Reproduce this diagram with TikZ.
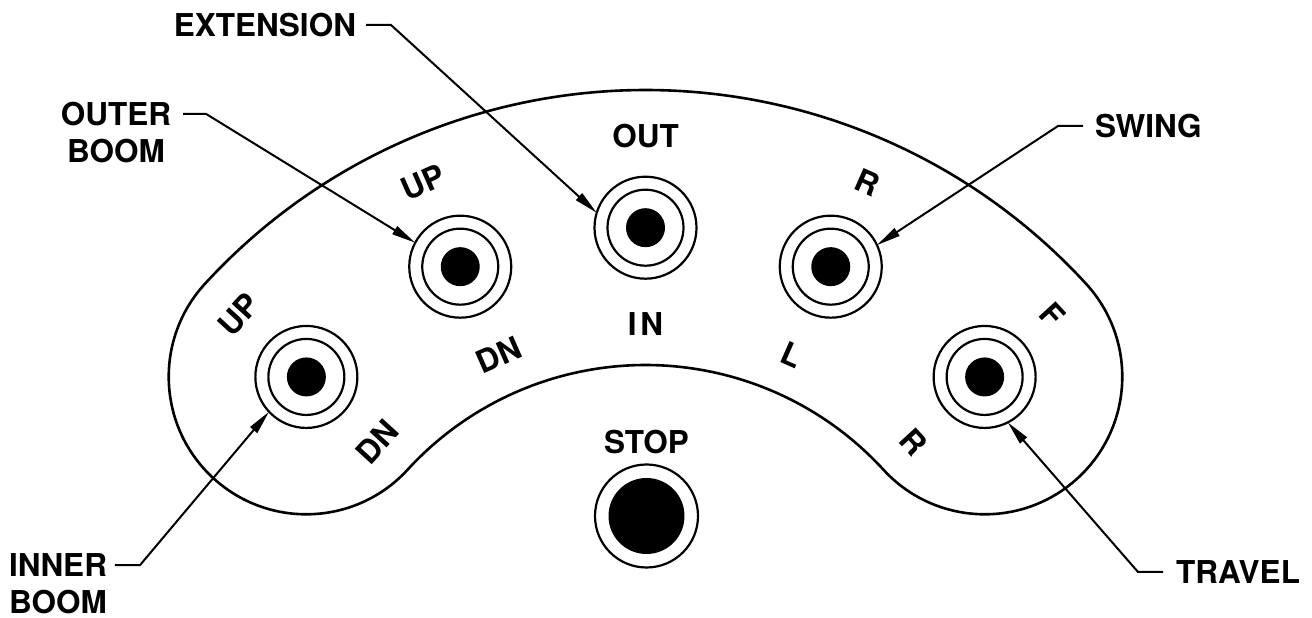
\documentclass[tikz,border=0pt]{standalone}
\usepackage{fontspec}
\setmainfont{TeX Gyre Heros}
\usetikzlibrary{arrows.meta,calc}
\begin{document}
\begin{tikzpicture}[x=1pt,y=1pt,
  every node/.style={font=\fontsize{31.5}{37}\selectfont\bfseries, inner sep=0pt, outer sep=0pt},
  ring/.style={circle, draw, line width=2.2pt, minimum size=102pt, inner sep=0pt},
  lead/.style={line width=2pt, -{Triangle[length=24pt,width=9pt]}},
  outline/.style={line width=2.6pt}]
\useasboundingbox (0,0) rectangle (1312,618);
\coordinate (C) at (645.5,-69.7);
% panel outline
\draw[outline] ($(C)+(137.5:597.7)$)
  arc[start angle=137.5, end angle=42.5, radius=597.7]
  arc[start angle=42.5, end angle=-137.5, radius=137.5]
  arc[start angle=42.5, end angle=137.5, radius=322.7]
  arc[start angle=-42.5, end angle=-222.5, radius=137.5] -- cycle;
% knobs
\foreach \a [count=\n] in {137.5, 113.75, 90, 66.25, 42.5} {
  \node[ring] (k\n) at ($(C)+(\a:460)$) {};
  \draw[line width=2.2pt] (k\n.center) circle[radius=38];
  \fill (k\n.center) circle[radius=19.5];
}
% direction labels
\foreach \a/\o/\i [count=\n] in {137.5/UP/DN, 113.75/UP/DN, 90/OUT/{I\hspace{4pt}N}, 66.25/R/L, 42.5/F/R} {
  \node[rotate=\a-90] (lo\n) at ($(C)+(\a:552)$) {\o};
  \node[rotate=\a-90] (li\n) at ($(C)+(\a:364)$) {\i};
}
% stop button
\node (stoplbl) at (646.5,176) {STOP};
\node[ring, minimum size=103pt] (stop) at (646.5,102) {};
\fill (stop.center) circle[radius=38];
% callouts
\node[anchor=east] (ext) at (356,593) {EXTENSION};
\node[align=center] (ob) at (116,485) {OUTER\\BOOM};
\node[anchor=west] (sw) at (1095,492) {SWING};
\node[align=center] (ib) at (58,34) {INNER\\BOOM};
\node[anchor=west] (tr) at (1176,46) {TRAVEL};
\draw[lead] ([xshift=10pt]ext.east) -- ++(25,0) -- (k3.163);
\draw[lead] ([shift={(12,-11.3)}]ob.north east) -- ++(23,0) -- (k2.152);
\draw[lead] ([shift={(8,-11.3)}]ib.north east) -- ++(25,0) -- (k1.223.5);
\draw[lead] ([xshift=-12pt]sw.west) -- ++(-25,0) -- (k4.25.6);
\draw[lead] ([xshift=-13pt]tr.west) -- ++(-25,0) -- (k5.297.6);
\end{tikzpicture}
\end{document}
